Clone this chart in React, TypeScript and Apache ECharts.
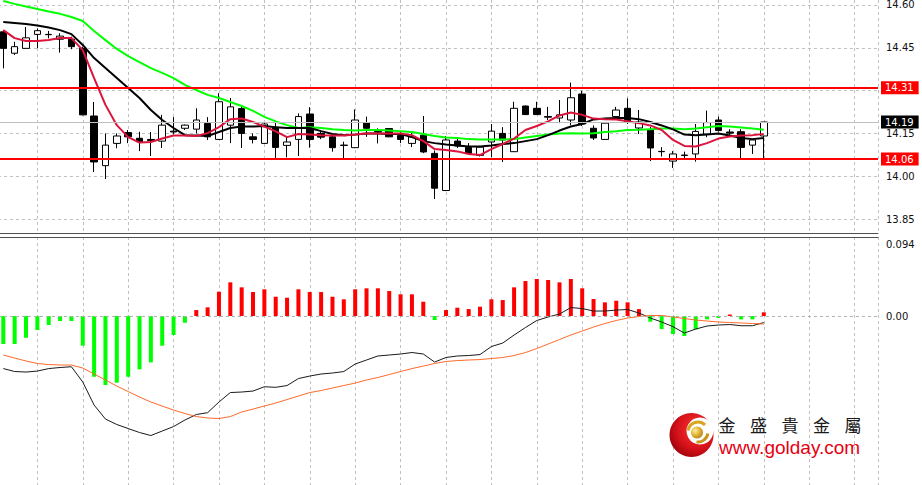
import React, { useEffect, useRef } from 'react';
import * as echarts from 'echarts';

// ---- price panel (68 bars) ----
const opens = [14.506, 14.431, 14.448, 14.497, 14.497, 14.480, 14.480, 14.448, 14.211, 14.037,
  14.115, 14.153, 14.133, 14.129, 14.123, 14.158, 14.168, 14.165, 14.185, 14.129,
  14.179, 14.237, 14.138, 14.115, 14.172, 14.108, 14.129, 14.218, 14.150, 14.138,
  14.109, 14.100, 14.188, 14.157, 14.167, 14.143, 14.115, 14.144, 14.080, 13.950,
  14.123, 14.101, 14.073, 14.120, 14.150, 14.086, 14.246, 14.238, 14.209, 14.204,
  14.197, 14.288, 14.168, 14.129, 14.209, 14.238, 14.169, 14.162, 14.087, 14.053,
  14.074, 14.078, 14.148, 14.197, 14.155, 14.156, 14.109, 14.141];
const closes = [14.448, 14.454, 14.485, 14.510, 14.496, 14.491, 14.454, 14.215, 14.050, 14.109,
  14.141, 14.138, 14.121, 14.125, 14.179, 14.155, 14.179, 14.197, 14.138, 14.261,
  14.243, 14.150, 14.129, 14.183, 14.101, 14.120, 14.209, 14.129, 14.137, 14.100,
  14.108, 14.197, 14.168, 14.155, 14.138, 14.129, 14.138, 14.085, 13.958, 14.127,
  14.106, 14.080, 14.102, 14.158, 14.127, 14.238, 14.216, 14.216, 14.207, 14.215,
  14.275, 14.183, 14.134, 14.186, 14.232, 14.191, 14.190, 14.099, 14.086, 14.078,
  14.073, 14.157, 14.188, 14.160, 14.151, 14.101, 14.127, 14.190];
const lows = [14.378, 14.425, 14.447, 14.449, 14.483, 14.433, 14.445, 14.213, 14.015, 13.990,
  14.098, 14.116, 14.088, 14.071, 14.099, 14.148, 14.162, 14.150, 14.127, 14.127,
  14.116, 14.099, 14.115, 14.113, 14.064, 14.066, 14.071, 14.100, 14.130, 14.086,
  14.063, 14.099, 14.138, 14.115, 14.137, 14.116, 14.102, 14.081, 13.920, 13.948,
  14.099, 14.078, 14.069, 14.067, 14.050, 14.085, 14.215, 14.215, 14.197, 14.186,
  14.179, 14.176, 14.127, 14.127, 14.207, 14.183, 14.148, 14.053, 14.069, 14.029,
  14.063, 14.051, 14.137, 14.156, 14.144, 14.063, 14.078, 14.063];
const highs = [14.512, 14.471, 14.523, 14.518, 14.509, 14.501, 14.489, 14.454, 14.260, 14.150,
  14.150, 14.162, 14.156, 14.155, 14.215, 14.207, 14.181, 14.238, 14.207, 14.291,
  14.274, 14.243, 14.150, 14.190, 14.190, 14.141, 14.220, 14.242, 14.155, 14.144,
  14.121, 14.234, 14.209, 14.168, 14.169, 14.155, 14.151, 14.211, 14.090, 14.141,
  14.137, 14.116, 14.106, 14.183, 14.172, 14.261, 14.248, 14.261, 14.243, 14.267,
  14.328, 14.299, 14.178, 14.188, 14.243, 14.273, 14.232, 14.173, 14.102, 14.088,
  14.086, 14.183, 14.230, 14.209, 14.165, 14.165, 14.129, 14.190];

const maFast = [14.512, 14.484, 14.474, 14.474, 14.477, 14.484, 14.484, 14.442, 14.344, 14.250,
  14.179, 14.137, 14.118, 14.120, 14.132, 14.143, 14.143, 14.141, 14.151, 14.172,
  14.200, 14.202, 14.190, 14.174, 14.157, 14.137, 14.148, 14.146, 14.144, 14.143,
  14.143, 14.146, 14.150, 14.150, 14.150, 14.150, 14.144, 14.123, 14.095, 14.092,
  14.087, 14.078, 14.074, 14.095, 14.113, 14.132, 14.162, 14.176, 14.192, 14.213,
  14.223, 14.215, 14.202, 14.200, 14.199, 14.193, 14.186, 14.178, 14.162, 14.127,
  14.106, 14.104, 14.116, 14.132, 14.139, 14.143, 14.144, 14.148];
const maMid = [14.540, 14.537, 14.533, 14.528, 14.521, 14.512, 14.498, 14.460, 14.414, 14.379,
  14.344, 14.309, 14.274, 14.232, 14.197, 14.169, 14.144, 14.143, 14.141, 14.155,
  14.169, 14.174, 14.174, 14.176, 14.172, 14.169, 14.169, 14.169, 14.158, 14.148,
  14.144, 14.146, 14.150, 14.150, 14.148, 14.148, 14.137, 14.123, 14.116, 14.111,
  14.108, 14.104, 14.104, 14.108, 14.113, 14.116, 14.123, 14.130, 14.144, 14.160,
  14.174, 14.183, 14.199, 14.202, 14.204, 14.204, 14.200, 14.190, 14.178, 14.164,
  14.146, 14.144, 14.146, 14.150, 14.143, 14.134, 14.130, 14.134];
const maSlow = [14.614, 14.604, 14.595, 14.586, 14.577, 14.569, 14.558, 14.544, 14.509, 14.477,
  14.446, 14.421, 14.400, 14.379, 14.362, 14.344, 14.320, 14.302, 14.285, 14.274,
  14.260, 14.246, 14.229, 14.208, 14.192, 14.179, 14.169, 14.172, 14.169, 14.165,
  14.162, 14.160, 14.162, 14.162, 14.160, 14.158, 14.155, 14.148, 14.141, 14.136,
  14.134, 14.130, 14.129, 14.129, 14.129, 14.130, 14.136, 14.141, 14.146, 14.150,
  14.151, 14.150, 14.151, 14.155, 14.158, 14.162, 14.163, 14.165, 14.167, 14.167,
  14.165, 14.167, 14.172, 14.176, 14.174, 14.171, 14.167, 14.163];

const priceTicks = [13.85, 14.00, 14.15, 14.30, 14.45, 14.60];
const supportLevel = 14.06;
const resistanceLevel = 14.31;
const lastPrice = 14.19;

// ---- MACD panel ----
const macdHist = [-0.037, -0.037, -0.0287, -0.0185, -0.0119, -0.0066, -0.0066, -0.0392, -0.0802, -0.0911,
  -0.0881, -0.0802, -0.0704, -0.0612, -0.0392, -0.0251, -0.0089, 0.0079, 0.0115, 0.0321,
  0.0445, 0.0379, 0.0317, 0.0353, 0.0255, 0.0242, 0.0353, 0.0317, 0.0317, 0.0255,
  0.0221, 0.0353, 0.0366, 0.0366, 0.033, 0.0287, 0.0287, 0.0189, -0.0053, 0.0079,
  0.011, 0.0092, 0.0123, 0.0221, 0.0211, 0.0379, 0.0462, 0.0489, 0.0476, 0.0445,
  0.0489, 0.0366, 0.0225, 0.0181, 0.0202, 0.0181, 0.0092, -0.0075, -0.0172, -0.0238,
  -0.0264, -0.0176, -0.0044, -0.0026, 0.002, -0.0044, -0.0044, 0.0049];
const macdMain = [-0.0694, -0.0733, -0.074, -0.0727, -0.0694, -0.068, -0.067, -0.0872, -0.1176, -0.1361,
  -0.1433, -0.1486, -0.1539, -0.1579, -0.1519, -0.146, -0.1374, -0.1301, -0.1277, -0.1136,
  -0.1011, -0.1004, -0.0991, -0.0934, -0.0942, -0.0918, -0.0826, -0.0793, -0.0766, -0.0753,
  -0.0733, -0.0634, -0.0581, -0.0528, -0.0515, -0.0502, -0.0482, -0.0502, -0.0608, -0.0548,
  -0.0528, -0.0522, -0.0509, -0.0403, -0.0357, -0.0251, -0.0152, -0.0059, -0.0013, 0.0026,
  0.0112, 0.0099, 0.0066, 0.0066, 0.0079, 0.0086, 0.004, -0.0026, -0.0079, -0.0141,
  -0.0225, -0.0172, -0.0132, -0.0119, -0.0112, -0.0128, -0.0128, -0.0086];
const macdSignal = [-0.0515, -0.0555, -0.0594, -0.0627, -0.0641, -0.0647, -0.0647, -0.0687, -0.0766, -0.0845,
  -0.0925, -0.0997, -0.107, -0.1136, -0.1189, -0.1242, -0.1288, -0.1328, -0.1347, -0.1354,
  -0.1328, -0.1268, -0.1229, -0.1189, -0.1149, -0.1103, -0.1057, -0.1011, -0.0984, -0.0951,
  -0.0918, -0.0885, -0.0845, -0.0812, -0.0773, -0.0733, -0.0694, -0.0661, -0.0627, -0.0601,
  -0.0588, -0.0581, -0.0575, -0.0561, -0.0548, -0.0522, -0.0482, -0.0429, -0.037, -0.031,
  -0.0251, -0.0198, -0.0145, -0.0099, -0.0059, -0.0026, -0.0007, 0.0007, 0.0007, -0.0013,
  -0.0033, -0.0053, -0.0066, -0.0079, -0.0086, -0.0092, -0.0099, -0.0106];
const macdTicks = [0, 0.094];

const brandName = ['金', '盛', '貴', '金', '屬'];
const brandUrl = 'www.golday.com';

const AXIS_FONT = 'DejaVu Sans';

export default function App() {
  const ref = useRef<HTMLDivElement>(null);

  useEffect(() => {
    document.body.style.margin = '0';
    const chart = echarts.init(ref.current as HTMLDivElement, null, { renderer: 'svg' });
    const xs = opens.map((_, i) => i + 1);
    const xMax = 78.06;
    const gridLeft = -8.05;

    const levelLabel = (bg: string) => ({
      show: true,
      position: 'end',
      distance: 3,
      formatter: (p: any) => Number(p.value).toFixed(2),
      color: '#ffffff',
      backgroundColor: bg,
      padding: [1, 5, 1, 4],
      fontSize: 10,
      fontFamily: AXIS_FONT,
      lineHeight: 11,
    });

    const dashed = { color: '#c0c0c0', type: [3, 3] as any, width: 1 };

    const option: any = {
      animation: false,
      backgroundColor: '#ffffff',
      grid: [
        { left: gridLeft, right: 44, top: 0, height: 233.3, outerBoundsMode: 'none', containLabel: false },
        { left: gridLeft, right: 44, top: 237, height: 292.5, outerBoundsMode: 'none', containLabel: false },
      ],
      xAxis: [
        {
          type: 'value', gridIndex: 0, min: 0, max: xMax, interval: 4, position: 'bottom',
          axisLine: { show: true, onZero: false, lineStyle: { color: '#505050', width: 1 } },
          axisTick: { show: false }, axisLabel: { show: false },
          splitLine: { show: true, lineStyle: dashed },
        },
        {
          type: 'value', gridIndex: 1, min: 0, max: xMax, interval: 4, position: 'top',
          axisLine: { show: true, onZero: false, lineStyle: { color: '#505050', width: 1 } },
          axisTick: { show: false }, axisLabel: { show: false },
          splitLine: { show: true, lineStyle: dashed },
        },
      ],
      yAxis: [
        {
          type: 'value', gridIndex: 0, position: 'right', min: 13.8, max: 14.6175,
          axisLine: { show: true, lineStyle: { color: '#000000', width: 1 } },
          axisTick: { show: true, length: 3, lineStyle: { color: '#000000' }, customValues: priceTicks },
          axisLabel: {
            margin: 8, color: '#111111', fontSize: 10, fontFamily: AXIS_FONT,
            customValues: priceTicks,
            formatter: (v: number) => v.toFixed(2),
          },
          splitLine: { show: true, lineStyle: dashed },
        },
        {
          type: 'value', gridIndex: 1, position: 'right', min: -0.282, max: 0.1044, interval: 0.094,
          axisLine: { show: true, lineStyle: { color: '#000000', width: 1 } },
          axisTick: { show: false },
          axisLabel: {
            margin: 8, color: '#111111', fontSize: 10, fontFamily: AXIS_FONT,
            formatter: (v: number) => {
              const hit = macdTicks.find((t) => Math.abs(t - v) < 1e-4);
              if (hit === undefined) return '';
              return hit === 0 ? '0.00' : hit.toFixed(3);
            },
          },
          splitLine: { show: false },
        },
      ],
      series: [
        {
          type: 'candlestick', xAxisIndex: 0, yAxisIndex: 0,
          encode: { x: 0, y: [1, 2, 3, 4] },
          barWidth: 7,
          data: xs.map((x, i) => [x, opens[i], closes[i], lows[i], highs[i]]),
          itemStyle: { color: '#ffffff', color0: '#000000', borderColor: '#000000', borderColor0: '#000000', borderWidth: 1 },
          markLine: {
            silent: true, symbol: ['none', 'none'], animation: false,
            data: [
              { yAxis: lastPrice, lineStyle: { color: '#c0c0c0', width: 1, type: 'solid' }, label: levelLabel('#000000') },
              { yAxis: resistanceLevel, lineStyle: { color: '#ff0000', width: 2, type: 'solid' }, label: levelLabel('#ff0000') },
              { yAxis: supportLevel, lineStyle: { color: '#ff0000', width: 2, type: 'solid' }, label: levelLabel('#ff0000') },
            ],
          },
        },
        {
          type: 'line', xAxisIndex: 0, yAxisIndex: 0, showSymbol: false,
          data: xs.map((x, i) => [x, maSlow[i]]),
          lineStyle: { color: '#00ff00', width: 2 },
        },
        {
          type: 'line', xAxisIndex: 0, yAxisIndex: 0, showSymbol: false,
          data: xs.map((x, i) => [x, maMid[i]]),
          lineStyle: { color: '#000000', width: 2 },
        },
        {
          type: 'line', xAxisIndex: 0, yAxisIndex: 0, showSymbol: false,
          data: xs.map((x, i) => [x, maFast[i]]),
          lineStyle: { color: '#dc143c', width: 2 },
        },
        {
          type: 'bar', xAxisIndex: 1, yAxisIndex: 1, barWidth: 4,
          data: xs.map((x, i) => ({
            value: [x, macdHist[i]],
            itemStyle: { color: macdHist[i] >= 0 ? '#ff0000' : '#00ff00' },
          })),
          markLine: {
            silent: true, symbol: ['none', 'none'], animation: false,
            label: { show: false },
            lineStyle: { color: '#b0b0b0', width: 1, type: [3, 3] },
            data: [{ yAxis: 0 }],
          },
        },
        {
          type: 'line', xAxisIndex: 1, yAxisIndex: 1, showSymbol: false,
          data: xs.map((x, i) => [x, macdMain[i]]),
          lineStyle: { color: '#1a1a1a', width: 1 },
        },
        {
          type: 'line', xAxisIndex: 1, yAxisIndex: 1, showSymbol: false,
          data: xs.map((x, i) => [x, macdSignal[i]]),
          lineStyle: { color: '#ff6a2a', width: 1 },
        },
      ],
      graphic: [
        {
          type: 'circle', shape: { cx: 691.5, cy: 435, r: 22 },
          style: {
            fill: new echarts.graphic.RadialGradient(0.62, 0.38, 0.75, [
              { offset: 0, color: '#ff3a30' },
              { offset: 0.6, color: '#d4101a' },
              { offset: 1, color: '#8e0008' },
            ]),
          },
          z: 100,
        },
        { type: 'circle', shape: { cx: 700, cy: 431, r: 13.5 }, style: { fill: '#ffffff' }, z: 101 },
        {
          type: 'arc', shape: { cx: 698, cy: 432, r: 10, startAngle: Math.PI * 1.05, endAngle: Math.PI * 1.75 },
          style: { stroke: '#d9a520', lineWidth: 3, fill: 'none' }, z: 102,
        },
        {
          type: 'arc', shape: { cx: 698, cy: 432, r: 10, startAngle: Math.PI * 0.05, endAngle: Math.PI * 0.55 },
          style: { stroke: '#c8961a', lineWidth: 3, fill: 'none' }, z: 102,
        },
        {
          type: 'circle', shape: { cx: 697, cy: 432.5, r: 6 },
          style: {
            fill: new echarts.graphic.RadialGradient(0.35, 0.35, 0.8, [
              { offset: 0, color: '#fff0a0' },
              { offset: 0.5, color: '#e0b030' },
              { offset: 1, color: '#a87a10' },
            ]),
          },
          z: 103,
        },
        ...brandName.map((ch, k) => ({
          type: 'text', x: 727 + k * 31.5, y: 424, z: 104,
          style: {
            text: ch, fill: '#1a1a1a', font: '17px "Noto Sans CJK TC"',
            align: 'center', verticalAlign: 'middle', textAlign: 'center', textVerticalAlign: 'middle',
          },
        })),
        {
          type: 'text', x: 719, y: 447.5, z: 104,
          style: {
            text: brandUrl, fill: '#e60012', font: '19px "Liberation Sans"',
            align: 'left', verticalAlign: 'middle', textAlign: 'left', textVerticalAlign: 'middle',
          },
        },
      ],
    };

    chart.setOption(option);
    return () => chart.dispose();
  }, []);

  return <div ref={ref} style={{ width: 922, height: 485 }} />;
}
